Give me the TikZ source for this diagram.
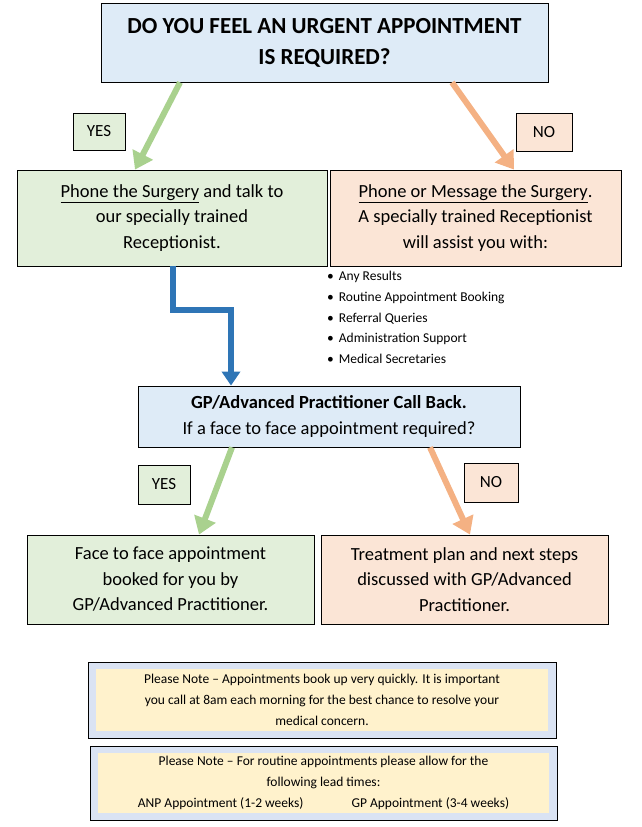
\documentclass[tikz,border=0pt]{standalone}
\usepackage{fontspec}
\setmainfont{Carlito}
\usetikzlibrary{arrows.meta}
\definecolor{lblue}{HTML}{DEEBF7}
\definecolor{lgreen}{HTML}{E2EFDA}
\definecolor{lorange}{HTML}{FBE5D6}
\definecolor{garr}{HTML}{A9D18E}
\definecolor{oarr}{HTML}{F4B183}
\definecolor{barr}{HTML}{2E75B6}
\definecolor{cream}{HTML}{FFF2CC}
\definecolor{nblue}{HTML}{DAE3F3}
\begin{document}
\begin{tikzpicture}[x=1pt,y=-1pt,
 box/.style={draw=black,line width=0.8pt,align=center,inner sep=0pt},
 body/.style={font=\fontsize{18.5}{25.5}\selectfont},
 lab/.style={box,font=\fontsize{17}{20}\selectfont},
 garrow/.style={draw=garr,line width=6pt,-{Triangle[length=17pt,width=22pt]}},
 oarrow/.style={draw=oarr,line width=6pt,-{Triangle[length=17pt,width=22pt]}},
 note/.style={draw=black,line width=1pt,fill=nblue,inner sep=0pt},
 notein/.style={fill=cream,align=center,inner sep=0pt,font=\fontsize{13.5}{21}\selectfont}]
\useasboundingbox (0,0) rectangle (641,827);
% title
\node[box,fill=lblue,minimum width=447,minimum height=79,font=\fontsize{23}{31}\selectfont\bfseries] (t) at (324.5,42.5) {DO YOU FEEL AN URGENT APPOINTMENT\\IS REQUIRED?};
\node[lab,fill=lgreen,minimum width=52,minimum height=37] (y1) at (99,131.5) {YES};
\node[lab,fill=lorange,minimum width=56,minimum height=38] (n1) at (544,132) {NO};
\node[box,body,fill=lgreen,minimum width=310,minimum height=96] (g1) at (172,218) {\underline{Phone the Surgery} and talk to\\our specially trained\\Receptionist.};
\node[box,body,fill=lorange,minimum width=291,minimum height=96] (o1) at (475.5,218) {\underline{Phone or Message the Surgery}.\\A specially trained Receptionist\\will assist you with:};
\node[anchor=north west,inner sep=0pt,font=\fontsize{13.5}{20.5}\selectfont] (list) at (327,266) {%
\begin{tabular}{@{}l@{\hspace{5pt}}l@{}}
\textbullet & Any Results\\[0.3pt]
\textbullet & Routine Appointment Booking\\[0.3pt]
\textbullet & Referral Queries\\[0.3pt]
\textbullet & Administration Support\\[0.3pt]
\textbullet & Medical Secretaries
\end{tabular}};
\draw[garrow] ([xshift=-144.5pt]t.south) -- ([xshift=-37pt]g1.north);
\draw[oarrow] ([xshift=127.5pt]t.south) -- ([xshift=38.5pt]o1.north);
% GP box
\node[box,fill=lblue,minimum width=382,minimum height=61,font=\fontsize{18.5}{25.5}\selectfont] (gp) at (329,416.5) {\textbf{GP/Advanced Practitioner Call Back.}\\If a face to face appointment required?};
\draw[draw=barr,line width=6pt,-{Triangle[length=14pt,width=18pt]}] ([xshift=1pt]g1.south) -- ++(0,44) -| ([xshift=-98pt]gp.north);
\node[lab,fill=lgreen,minimum width=52,minimum height=39] (y2) at (164,484.5) {YES};
\node[lab,fill=lorange,minimum width=54,minimum height=39] (n2) at (491,482.5) {NO};
\node[box,body,fill=lgreen,minimum width=287,minimum height=89] (g2) at (170.5,579.5) {Face to face appointment\\booked for you by\\GP/Advanced Practitioner.};
\node[box,body,fill=lorange,minimum width=287,minimum height=89] (o2) at (464.5,579.5) {Treatment plan and next steps\\discussed with GP/Advanced\\Practitioner.};
\draw[garrow] ([xshift=-97pt]gp.south) -- ([xshift=28.5pt]g2.north);
\draw[oarrow] ([xshift=101pt]gp.south) -- ([xshift=5.5pt]o2.north);
% notes
\node[note,minimum width=468,minimum height=76] (m1) at (322,700) {};
\node[notein,minimum width=452,minimum height=62] (m1t) at (m1.center) {Please Note -- Appointments book up very quickly. It is important\\you call at 8am each morning for the best chance to resolve your\\medical concern.};
\node[note,minimum width=467,minimum height=74] (m2) at (323.5,783) {};
\node[notein,minimum width=451,minimum height=60] (m2t) at (m2.center) {Please Note -- For routine appointments please allow for the\\following lead times:\\ANP Appointment (1-2 weeks)\hspace{48pt}GP Appointment (3-4 weeks)};
\end{tikzpicture}
\end{document}
